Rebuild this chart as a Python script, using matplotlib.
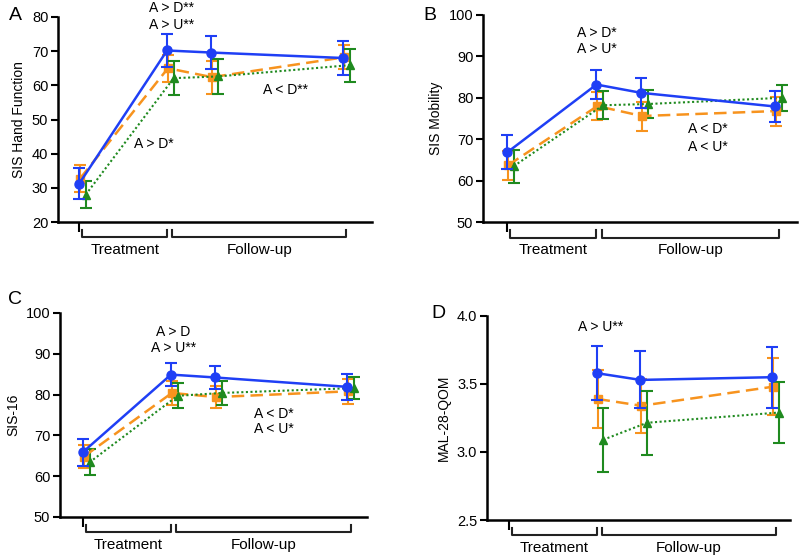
import numpy as np
import matplotlib
matplotlib.use("Agg")
import matplotlib.pyplot as plt
import matplotlib.transforms as mtrans

plt.rcParams['font.family'] = ['Liberation Sans', 'DejaVu Sans']

# time points (pre, post, follow-up 1, follow-up 2)
x = np.array([0, 2, 3, 6])

# Panel A - SIS Hand Function
a_blue = [31.2, 70.2, 69.6, 68.0]
a_blue_err = [4.5, 4.8, 4.9, 5.1]
a_orange = [32.7, 65.0, 62.4, 68.2]
a_orange_err = [3.9, 4.0, 4.8, 3.5]
a_green = [28.0, 62.1, 62.6, 65.9]
a_green_err = [4.0, 5.0, 5.0, 4.8]

# Panel B - SIS Mobility
b_blue = [66.8, 83.2, 81.2, 77.9]
b_blue_err = [4.1, 3.4, 3.7, 3.8]
b_orange = [63.7, 78.0, 75.6, 76.8]
b_orange_err = [3.5, 3.3, 3.5, 3.5]
b_green = [63.5, 78.2, 78.5, 80.0]
b_green_err = [4.0, 3.4, 3.3, 3.2]

# Panel C - SIS-16
c_blue = [65.9, 84.9, 84.2, 81.9]
c_blue_err = [3.3, 2.8, 2.9, 3.2]
c_orange = [64.8, 80.4, 79.4, 80.8]
c_orange_err = [2.8, 3.0, 2.8, 3.0]
c_green = [63.4, 79.7, 80.4, 81.6]
c_green_err = [3.2, 3.1, 3.0, 2.7]

# Panel D - MAL-28-QOM (no baseline)
d_blue = [np.nan, 3.58, 3.53, 3.55]
d_blue_err = [0, 0.20, 0.21, 0.225]
d_orange = [np.nan, 3.39, 3.34, 3.48]
d_orange_err = [0, 0.21, 0.20, 0.21]
d_green = [np.nan, 3.09, 3.215, 3.29]
d_green_err = [0, 0.235, 0.237, 0.224]

blue = '#1f3ff5'
orange = '#f7931e'
green = '#1f8a1f'

fig = plt.figure(figsize=(8, 5.57), dpi=100)
W, H = 800, 557


def make_ax(left, right, top, bottom):
    return fig.add_axes([left / W, 1 - bottom / H, (right - left) / W, (bottom - top) / H])


def draw(ax, series, ylim, yticks, ylabel, xlim, fmt='%d'):
    b, be, o, oe, g, ge = series
    ax.errorbar(x, b, yerr=be, color=blue, lw=1.8, ls='-', marker='o', ms=6.5,
                capsize=4, capthick=1.5, elinewidth=1.5, zorder=3)
    ax.errorbar(x + 0.02, o, yerr=oe, color=orange, lw=1.8, ls=(0, (5, 2.5)), marker='s', ms=5.5,
                capsize=4, capthick=1.5, elinewidth=1.5, zorder=2)
    ax.errorbar(x + 0.15, g, yerr=ge, color=green, lw=1.5, ls=(0, (1, 1.2)), marker='^', ms=5.5,
                capsize=4, capthick=1.5, elinewidth=1.5, zorder=2)
    ax.set_ylim(ylim)
    ax.set_yticks(yticks)
    ax.set_yticklabels([fmt % v for v in yticks], fontsize=10.5)
    ax.set_ylabel(ylabel, fontsize=10)
    ax.set_xlim(xlim)
    ax.set_xticks([0])
    ax.set_xticklabels([''])
    ax.tick_params(axis='x', length=7, width=1.5)
    ax.tick_params(axis='y', length=5, width=1.5, pad=2)
    for s in ['top', 'right']:
        ax.spines[s].set_visible(False)
    for s in ['left', 'bottom']:
        ax.spines[s].set_linewidth(1.8)
    tr = mtrans.blended_transform_factory(ax.transData, ax.transAxes)
    for x0, x1, lab in [(0.07, 2.0, 'Treatment'), (2.12, 6.08, 'Follow-up')]:
        ax.plot([x0, x0, x1, x1], [-0.04, -0.075, -0.075, -0.04], color='#222222',
                lw=1.5, transform=tr, clip_on=False)
        ax.text((x0 + x1) / 2, -0.135, lab, transform=tr, ha='center', va='center', fontsize=11)


axA = make_ax(58, 372, 17, 222)
draw(axA, (a_blue, a_blue_err, a_orange, a_orange_err, a_green, a_green_err),
     (20, 80), [20, 30, 40, 50, 60, 70, 80], 'SIS Hand Function', (-0.48, 6.66))
axA.text(2.1, 82.6, 'A > D**', ha='center', va='center', fontsize=10, clip_on=False)
axA.text(2.1, 77.7, 'A > U**', ha='center', va='center', fontsize=10, clip_on=False)
axA.text(1.7, 42.7, 'A > D*', ha='center', va='center', fontsize=10)
axA.text(4.7, 58.7, 'A < D**', ha='center', va='center', fontsize=10)

axB = make_ax(483, 797, 15, 222)
draw(axB, (b_blue, b_blue_err, b_orange, b_orange_err, b_green, b_green_err),
     (50, 100), [50, 60, 70, 80, 90, 100], 'SIS Mobility', (-0.54, 6.49))
axB.text(2.0, 95.7, 'A > D*', ha='center', va='center', fontsize=10)
axB.text(2.0, 91.7, 'A > U*', ha='center', va='center', fontsize=10)
axB.text(4.5, 72.5, 'A < D*', ha='center', va='center', fontsize=10)
axB.text(4.5, 68.2, 'A < U*', ha='center', va='center', fontsize=10)

axC = make_ax(60, 367, 313, 517)
draw(axC, (c_blue, c_blue_err, c_orange, c_orange_err, c_green, c_green_err),
     (50, 100), [50, 60, 70, 80, 90, 100], 'SIS-16', (-0.52, 6.45))
axC.text(2.05, 95.3, 'A > D', ha='center', va='center', fontsize=10)
axC.text(2.05, 91.3, 'A > U**', ha='center', va='center', fontsize=10)
axC.text(4.33, 75.3, 'A < D*', ha='center', va='center', fontsize=10)
axC.text(4.33, 71.5, 'A < U*', ha='center', va='center', fontsize=10)

axD = make_ax(487, 790, 316, 520)
draw(axD, (d_blue, d_blue_err, d_orange, d_orange_err, d_green, d_green_err),
     (2.5, 4.0), [2.5, 3.0, 3.5, 4.0], 'MAL-28-QOM', (-0.5, 6.41), fmt='%.1f')
axD.text(2.1, 3.92, 'A > U**', ha='center', va='center', fontsize=10)

for lab, px, py in [('A', 15, 15), ('B', 430, 15), ('C', 15, 300), ('D', 438, 313)]:
    fig.text(px / W, 1 - py / H, lab, ha='center', va='center', fontsize=14)

fig.savefig('out.png', dpi=100)
